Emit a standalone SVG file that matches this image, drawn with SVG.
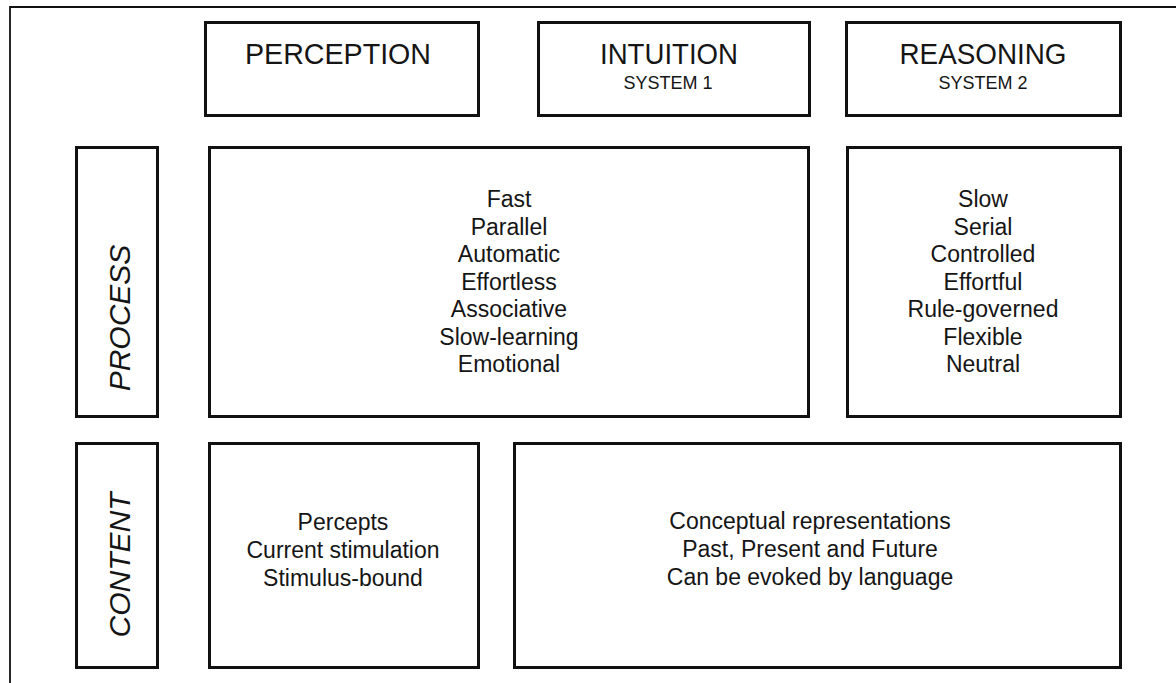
<svg xmlns="http://www.w3.org/2000/svg" width="1176" height="683" viewBox="0 0 1176 683">
<style>
.box{fill:#fff;stroke:#111;stroke-width:3}
.frame{fill:none;stroke:#111;stroke-width:1.8}
text{font-family:"Liberation Sans",Arial,sans-serif;fill:#151515;text-anchor:middle}
.hd{font-size:29.5px}
.sub{font-size:18px}
.it{font-size:23px}
.side{font-size:30px;font-style:italic}
</style>
<rect width="1176" height="683" fill="#fff"/>
<g id="frame">
<path class="frame" d="M10,683 V7 H1176"/>
</g>
<g id="perception">
<rect class="box" x="205.5" y="22.5" width="273" height="93"/>
<text class="hd" x="338" y="64" textLength="186" lengthAdjust="spacingAndGlyphs">PERCEPTION</text>
</g>
<g id="intuition">
<rect class="box" x="538.5" y="22.5" width="271" height="93"/>
<text class="hd" x="669" y="64" textLength="138" lengthAdjust="spacingAndGlyphs">INTUITION</text>
<text class="sub" x="668" y="89">SYSTEM 1</text>
</g>
<g id="reasoning">
<rect class="box" x="846.5" y="22.5" width="274" height="93"/>
<text class="hd" x="983" y="64" textLength="167" lengthAdjust="spacingAndGlyphs">REASONING</text>
<text class="sub" x="983" y="89">SYSTEM 2</text>
</g>
<g id="process-label">
<rect class="box" x="76.5" y="147.5" width="81" height="269"/>
<text class="side" transform="translate(130,318) rotate(-90)">PROCESS</text>
</g>
<g id="process-system1">
<rect class="box" x="209.5" y="147.5" width="599" height="269"/>
<text class="it" x="509" y="207">Fast</text>
<text class="it" x="509" y="234.5">Parallel</text>
<text class="it" x="509" y="262">Automatic</text>
<text class="it" x="509" y="289.5">Effortless</text>
<text class="it" x="509" y="317">Associative</text>
<text class="it" x="509" y="344.5">Slow-learning</text>
<text class="it" x="509" y="372">Emotional</text>
</g>
<g id="process-system2">
<rect class="box" x="847.5" y="147.5" width="273" height="269"/>
<text class="it" x="983" y="207">Slow</text>
<text class="it" x="983" y="234.5">Serial</text>
<text class="it" x="983" y="262">Controlled</text>
<text class="it" x="983" y="289.5">Effortful</text>
<text class="it" x="983" y="317">Rule-governed</text>
<text class="it" x="983" y="344.5">Flexible</text>
<text class="it" x="983" y="372">Neutral</text>
</g>
<g id="content-label">
<rect class="box" x="76.5" y="443.5" width="81" height="224"/>
<text class="side" transform="translate(130,565) rotate(-90)">CONTENT</text>
</g>
<g id="content-perception">
<rect class="box" x="209.5" y="443.5" width="269" height="224"/>
<text class="it" x="343" y="530">Percepts</text>
<text class="it" x="343" y="558">Current stimulation</text>
<text class="it" x="343" y="586">Stimulus-bound</text>
</g>
<g id="content-conceptual">
<rect class="box" x="514.5" y="443.5" width="606" height="224"/>
<text class="it" x="810" y="529">Conceptual representations</text>
<text class="it" x="810" y="557">Past, Present and Future</text>
<text class="it" x="810" y="585">Can be evoked by language</text>
</g>
<g id="connectors"></g>
</svg>
